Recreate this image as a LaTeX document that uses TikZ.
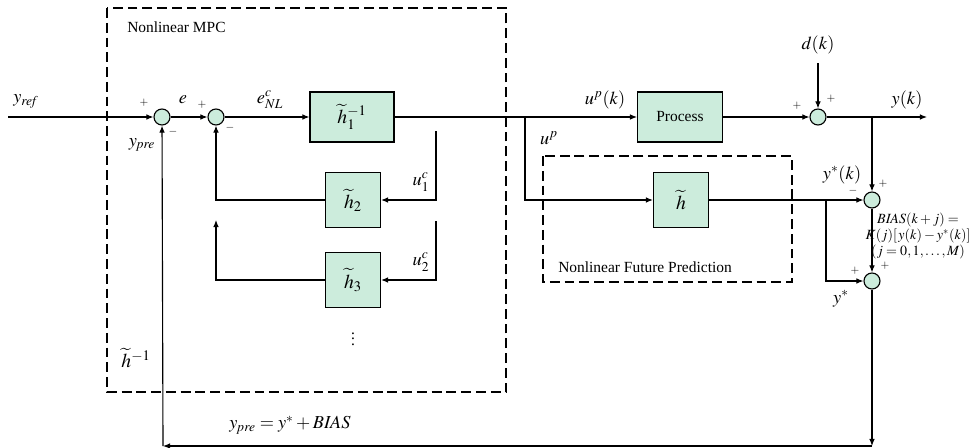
\documentclass[tikz,border=0pt]{standalone}
\usepackage{mathptmx}
\usepackage{fontspec}
\setmainfont{Liberation Serif}
\usetikzlibrary{arrows.meta}
\definecolor{blkgreen}{RGB}{204,236,220}
\begin{document}
\begin{tikzpicture}[x=0.025cm, y=-0.025cm, line width=0.8pt,
  >={Latex[length=5pt,width=4pt]},
  font=\fontsize{11}{13}\selectfont,
  blk/.style={draw, fill=blkgreen, inner sep=0pt},
  sumnode/.style={draw, circle, fill=blkgreen, minimum size=0.4cm, inner sep=0pt},
  sgn/.style={font=\fontsize{8}{9}\selectfont},
  lab/.style={font=\fontsize{13}{15}\selectfont},
  area/.style={dashed, dash pattern=on 7pt off 3.5pt}]
\useasboundingbox (0,0) rectangle (976,448);
% blocks and summing junctions
\node[sumnode] (s1) at (162,117) {};
\node[sumnode] (s2) at (216,117) {};
\node[blk, minimum width=2.1cm, minimum height=1.25cm, font=\fontsize{14}{16}\selectfont] (h1) at (352,117) {$\widetilde{h}_1^{-1}$};
\node[blk, minimum width=2.12cm, minimum height=1.25cm] (proc) at (680,117) {Process};
\node[sumnode] (sd) at (818,117) {};
\node[blk, minimum size=1.375cm, font=\fontsize{14}{16}\selectfont] (h2) at (353,200) {$\widetilde{h}_2$};
\node[blk, minimum size=1.375cm, font=\fontsize{14}{16}\selectfont] (h3) at (353,280) {$\widetilde{h}_3$};
\node[blk, minimum size=1.375cm, font=\fontsize{14}{16}\selectfont] (hp) at (681,200) {$\widetilde{h}$};
\node[sumnode] (s3) at (872,200) {};
\node[sumnode] (s4) at (872,281) {};
% points on the lines
\coordinate (yin) at (8,117);
\coordinate (yout) at (927,117);
\coordinate (dk) at (818,63);
\coordinate (br) at (525,117);
\coordinate (yb) at (872,117);
\coordinate (ys) at (826,200);
\coordinate (u1t) at (436,131);
\coordinate (u2t) at (436,221);
\coordinate (fb3) at (216,220);
\coordinate (botr) at (872,446);
\coordinate (botl) at (163,446);
% dashed areas
\draw[area] (107,8) rectangle (506,392);
\draw[area] (543,156) rectangle (792,282);
% signals
\draw[->] (yin) -- (s1);
\draw[->] (s1) -- (s2);
\draw[->] (s2) -- (h1);
\draw[->] (h1) -- (proc);
\draw[->] (proc) -- (sd);
\draw[->] (dk) -- (sd);
\draw[->] (sd) -- (yout);
\draw[->] (yb) -- (s3);
\draw[->] (br) |- (hp);
\draw[->] (hp) -- (s3);
\draw[->] (ys) |- (s4);
\draw[->] (s3) -- (s4);
\draw[->] (u1t) |- (h2);
\draw[->] (u2t) |- (h3);
\draw[->] (h2) -| (s2);
\draw[->] (h3) -| (fb3);
\draw[->] (s4) -- (botr);
\draw[->] (botr) -- (botl);
\draw[->] (botl) -- (s1);
% signs
\node[sgn] at (144,103) {$+$};
\node[sgn] at (173,132) {$-$};
\node[sgn] at (202,105) {$+$};
\node[sgn] at (230,128) {$-$};
\node[sgn] at (797,106) {$+$};
\node[sgn] at (831,99) {$+$};
\node[sgn] at (853,191) {$-$};
\node[sgn] at (883,184) {$+$};
\node[sgn] at (855,271) {$+$};
\node[sgn] at (885,266) {$+$};
% labels
\node[anchor=west] at (122,27) {Nonlinear MPC};
\node[anchor=west] at (553,267) {Nonlinear Future Prediction};
\node[lab] at (26,101) {$y_{\mathit{ref}}$};
\node[lab] at (183,100) {$e$};
\node[lab] at (270,100) {$e_{NL}^{c}$};
\node[lab] at (142,145) {$y_{\mathit{pre}}$};
\node[lab] at (605,100) {$u^{p}(k)$};
\node[lab] at (549,138) {$u^{p}$};
\node[lab] at (421,182) {$u_1^{c}$};
\node[lab] at (421,262) {$u_2^{c}$};
\node[lab] at (818,45) {$d(k)$};
\node[lab] at (907,100) {$y(k)$};
\node[lab] at (842,175) {$y^{*}(k)$};
\node[lab] at (841,299) {$y^{*}$};
\node[font=\fontsize{14}{16}\selectfont] at (136,358) {$\widetilde{h}^{-1}$};
\node[lab] at (290,425) {$y_{\mathit{pre}}=y^{*}+\mathit{BIAS}$};
\node at (353,335) {$\vdots$};
\node[align=center, inner sep=0pt, font=\fontsize{10}{11.5}\selectfont] at (918,236) {$\mathit{BIAS}(k+j)=$\\$K(j)[\,y(k)-y^{*}(k)]$\\$(j=0,1,\ldots,M)$};
\end{tikzpicture}
\end{document}
